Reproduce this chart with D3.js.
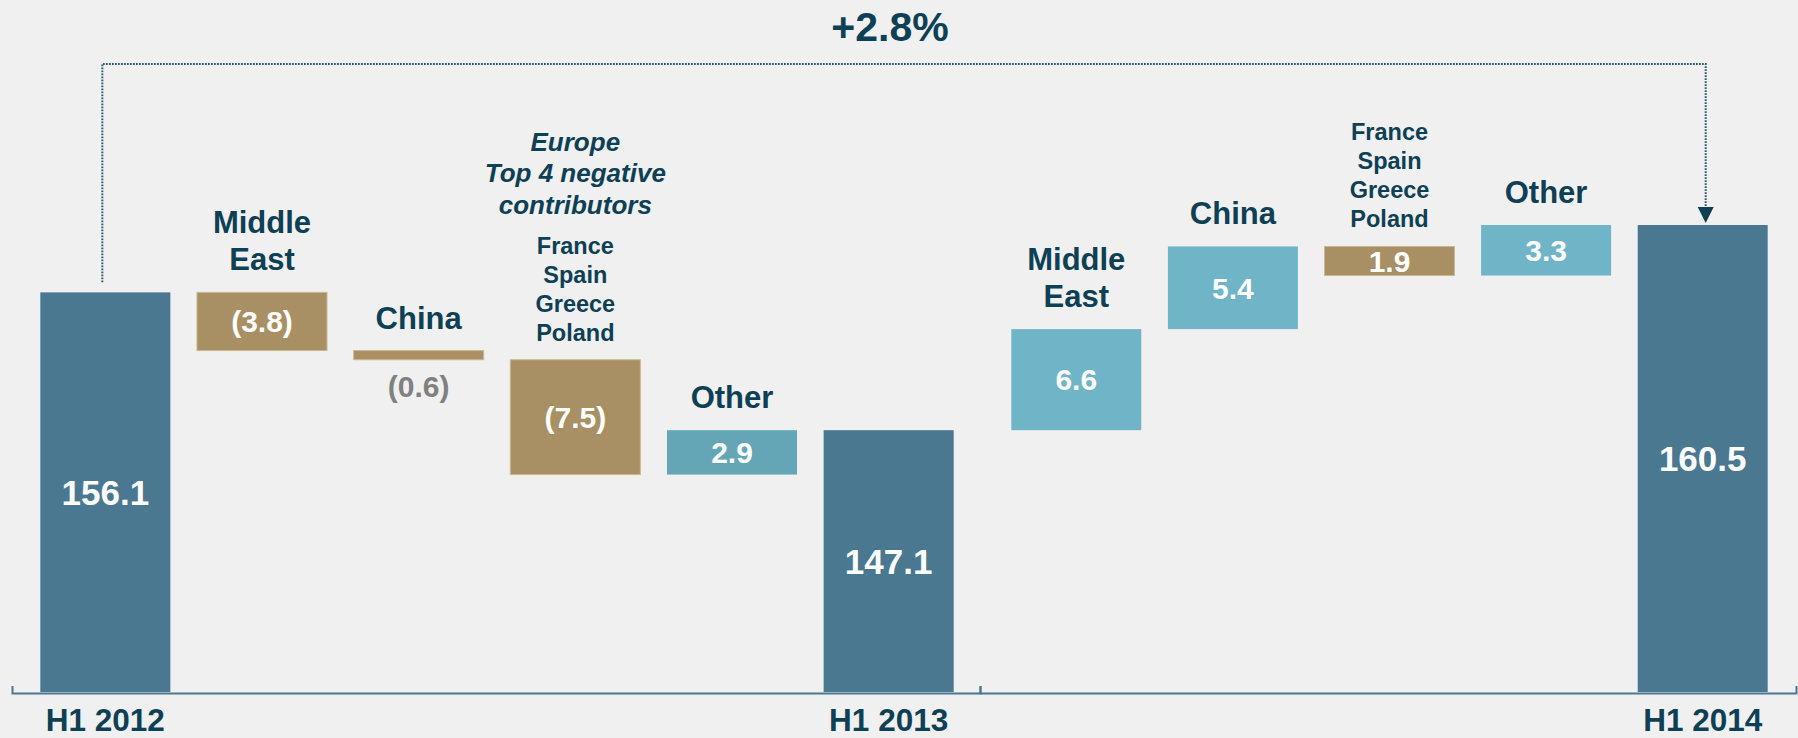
<!DOCTYPE html>
<html>
<head>
<meta charset="utf-8">
<script src="https://cdn.jsdelivr.net/npm/d3@7"></script>
<style>
  html, body { margin: 0; padding: 0; background: #f0f0f0; }
  svg { display: block; font-family: "Liberation Sans", Arial, sans-serif; font-weight: bold; }
</style>
</head>
<body>
<div id="chart"></div>
<script>
// H1 2012 -> H1 2013
const steps1 = ["H1 2012", "Middle East", "China", "Europe", "Other", "H1 2013"];
const values1 = [156.1, -3.8, -0.6, -7.5, 2.9, 147.1];
const valueLabels1 = ["156.1", "(3.8)", "(0.6)", "(7.5)", "2.9", "147.1"];

// H1 2013 -> H1 2014
const steps2 = ["Middle East", "China", "Europe", "Other", "H1 2014"];
const values2 = [6.6, 5.4, -1.9, 3.3, 160.5];
const valueLabels2 = ["6.6", "5.4", "1.9", "3.3", "160.5"];

const totals = ["H1 2012", "H1 2013", "H1 2014"];
const regionLines = {"Middle East": ["Middle", "East"], "China": ["China"], "Other": ["Other"]};
const europeCountries = ["France", "Spain", "Greece", "Poland"];
const europeNote = ["Europe", "Top 4 negative", "contributors"];
const changeLabel = "+2.8%";

const W = 1798, H = 738;
const dark = "#0d3f55";
const colors = {total: "#4a7890", neg: "#a89064", pos1: "#64a6b6", pos2: "#6fb4c7"};

const svg = d3.select("#chart").append("svg")
    .attr("width", W)
    .attr("height", H);

svg.append("rect").attr("width", W).attr("height", H).attr("fill", "#f0f0f0");

const y = d3.scaleLinear().domain([130, 160.5]).range([692, 225]);

const x1 = d3.scaleBand().domain(steps1).range([27, 967]).paddingInner(0.17).paddingOuter(0.085);
const x2 = d3.scaleBand().domain(steps2).range([998, 1781]).paddingInner(0.17).paddingOuter(0.085);

// build waterfall rows, the second panel starts from H1 2013
function waterfall(steps, values, labels, start, panel) {
    let run = start;
    return steps.map((s, i) => {
        const v = values[i];
        let lo, hi, kind;
        if (totals.includes(s)) {
            lo = y.domain()[0]; hi = v; run = v; kind = "total";
        } else {
            const next = run + v;
            lo = Math.min(run, next); hi = Math.max(run, next);
            run = next;
            kind = v < 0 ? "neg" : (panel === 1 ? "pos1" : "pos2");
        }
        return {step: s, value: v, label: labels[i], lo, hi, kind};
    });
}

const rows1 = waterfall(steps1, values1, valueLabels1, 0, 1);
const rows2 = waterfall(steps2, values2, valueLabels2, values1[values1.length - 1], 2);

function drawPanel(rows, x, panel) {
    const g = svg.append("g");
    const bw = x.bandwidth();

    g.selectAll(".bar")
        .data(rows)
        .enter().append("rect")
        .attr("class", "bar")
        .attr("x", d => x(d.step))
        .attr("width", bw)
        .attr("y", d => y(d.hi))
        .attr("height", d => y(d.lo) - y(d.hi))
        .attr("fill", d => colors[d.kind])
        .attr("stroke", d => d.kind === "neg" ? "#c9b994" : "none")
        .attr("stroke-width", 1);

    // value labels, inside bar unless it is too thin
    rows.forEach(d => {
        const h = y(d.lo) - y(d.hi);
        const cx = x(d.step) + bw / 2;
        const big = d.kind === "total";
        const t = g.append("text")
            .attr("x", cx)
            .attr("text-anchor", "middle")
            .style("font-size", big ? "35px" : "30px")
            .text(d.label);
        if (h < 25) {
            t.attr("y", y(d.lo) + 37).attr("fill", "#808080");
        } else {
            t.attr("y", (y(d.lo) + y(d.hi)) / 2).attr("dy", "0.36em").attr("fill", "#fff");
        }
    });

    // category names above the bars
    rows.forEach(d => {
        if (totals.includes(d.step)) return;
        const cx = x(d.step) + bw / 2;
        const top = y(d.hi);
        if (d.step === "Europe") {
            const last = top - 19;
            europeCountries.forEach((c, i) => {
                g.append("text")
                    .attr("x", cx)
                    .attr("y", last - (europeCountries.length - 1 - i) * 29)
                    .attr("text-anchor", "middle")
                    .attr("fill", dark)
                    .style("font-size", "23.5px")
                    .text(c);
            });
            if (panel === 1) {
                const noteLast = last - (europeCountries.length - 1) * 29 - 40;
                europeNote.forEach((c, i) => {
                    g.append("text")
                        .attr("x", cx)
                        .attr("y", noteLast - (europeNote.length - 1 - i) * 31.5)
                        .attr("text-anchor", "middle")
                        .attr("fill", dark)
                        .style("font-size", "26px")
                        .style("font-style", "italic")
                        .text(c);
                });
            }
        } else {
            const lines = regionLines[d.step];
            lines.forEach((c, i) => {
                g.append("text")
                    .attr("x", cx)
                    .attr("y", top - 22 - (lines.length - 1 - i) * 37)
                    .attr("text-anchor", "middle")
                    .attr("fill", dark)
                    .style("font-size", "31px")
                    .text(c);
            });
        }
    });

    // period labels under the total bars
    rows.filter(d => totals.includes(d.step)).forEach(d => {
        g.append("text")
            .attr("x", x(d.step) + bw / 2)
            .attr("y", 731)
            .attr("text-anchor", "middle")
            .attr("fill", dark)
            .style("font-size", "31.5px")
            .text(d.step);
    });
}

drawPanel(rows1, x1, 1);
drawPanel(rows2, x2, 2);

// base lines of the two panels
const axisStyle = g => {
    g.select(".domain").attr("stroke", "#4a7890").attr("stroke-width", 2);
    g.selectAll(".tick").remove();
};
svg.append("g")
    .attr("transform", `translate(0,${y(130) + 1})`)
    .call(d3.axisTop(d3.scaleLinear().range([12, 980])).tickSizeInner(0).tickSizeOuter(7).tickValues([]))
    .call(axisStyle);
svg.append("g")
    .attr("transform", `translate(0,${y(130) + 1})`)
    .call(d3.axisTop(d3.scaleLinear().range([980, 1796])).tickSizeInner(0).tickSizeOuter(7).tickValues([]))
    .call(axisStyle);

// growth bracket from H1 2012 to H1 2014
const xa = x1("H1 2012") + x1.bandwidth() / 2 - 3;
const xb = x2("H1 2014") + x2.bandwidth() / 2 + 3;
const yTop = 64;
const yEnd = y(160.5) - 2;
svg.append("path")
    .attr("d", `M${xa},${y(156.1) - 10}V${yTop}H${xb}V${yEnd - 15}`)
    .attr("fill", "none")
    .attr("stroke", "#2b5a6f")
    .attr("stroke-width", 2)
    .attr("stroke-dasharray", "1.8,1.2");
svg.append("path")
    .attr("d", `M${xb - 8},${yEnd - 16}L${xb + 8},${yEnd - 16}L${xb},${yEnd}Z`)
    .attr("fill", dark);

svg.append("text")
    .attr("x", (xa + xb) / 2 - 14)
    .attr("y", 41)
    .attr("text-anchor", "middle")
    .attr("fill", dark)
    .style("font-size", "41px")
    .text(changeLabel);
</script>
</body>
</html>
